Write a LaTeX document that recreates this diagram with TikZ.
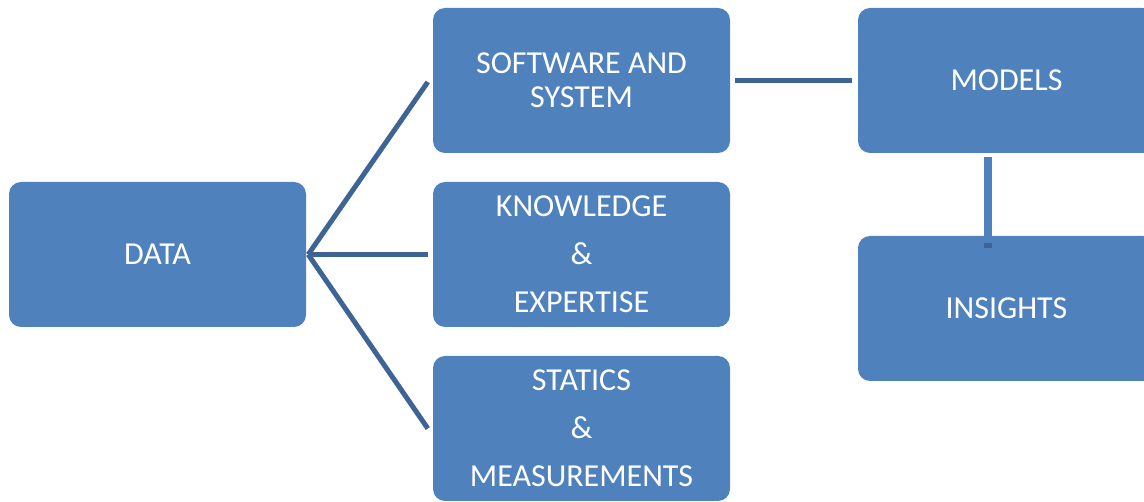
\documentclass[tikz,border=0pt]{standalone}
\usepackage{fontspec}
\setmainfont{Carlito}
\definecolor{boxblue}{HTML}{4F81BD}
\definecolor{linkblue}{RGB}{62,100,150}
\begin{document}
\begin{tikzpicture}[x=1pt,y=-1pt,
  card/.style={rectangle, rounded corners=12pt, fill=boxblue, text=white,
    minimum width=297pt, minimum height=145pt, inner sep=0pt, align=center,
    font=\fontsize{32}{34}\selectfont},
  tallcard/.style={card, font=\fontsize{32}{48}\selectfont},
  link/.style={draw=linkblue, line width=5pt}]
\useasboundingbox (0,0) rectangle (1144,502);
\clip (0,0) rectangle (1144,502);
% boxes
\node[card] (data) at (157.5,254.5) {DATA};
\node[card] (soft) at (581.5,80.5) {SOFTWARE AND\\SYSTEM};
\node[tallcard] (know) at (581.5,254.5) {KNOWLEDGE\\\&\\EXPERTISE};
\node[tallcard] (stat) at (581.5,428.5) {STATICS\\\&\\MEASUREMENTS};
\node[card] (models) at (1006.5,80.5) {MODELS};
\node[card] (ins) at (1006.5,308.5) {INSIGHTS};
% fan-out from DATA
\coordinate (hub) at ([xshift=2pt]data.east);
\draw[link] (hub) -- ([xshift=-5pt,yshift=-1.5pt]soft.west);
\draw[link] (hub) -- ([xshift=-5pt]know.west);
\draw[link] (hub) -- ([xshift=-5pt]stat.west);
% software to models
\draw[link] ([xshift=5pt]soft.east) -- ([xshift=-6pt]models.west);
% models to insights
\coordinate (drop) at ([xshift=-18.5pt]ins.north);
\draw[draw=boxblue, line width=8pt] ([xshift=-18.5pt,yshift=-4pt]models.south) -- ([yshift=-7pt]drop);
\fill[linkblue] ([xshift=-4pt,yshift=-7pt]drop) rectangle ([xshift=4pt,yshift=-12pt]drop);
\end{tikzpicture}
\end{document}
